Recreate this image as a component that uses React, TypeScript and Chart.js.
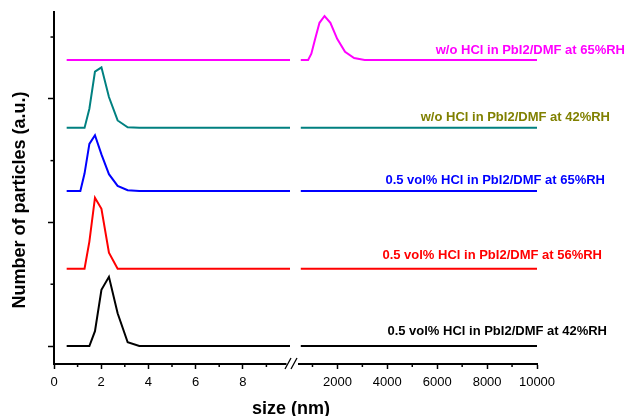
import React, { useEffect, useRef } from "react";
import { Chart, registerables, LinearScale } from "chart.js";

Chart.register(...registerables);

// Size bins (nm) on each side of the axis break
const leftSizes = [0.5365, 1.117, 1.294, 1.499, 1.736, 2.01, 2.328, 2.696, 3.122, 3.615, 10];
const rightSizes = [531.2, 825, 955.4, 1106, 1281, 1484, 1718, 1990, 2305, 2669, 3091, 3580, 10000];

// Number distribution (a.u.) per sample, left bins then right bins
const hcl42Left = [0, 0, 0, 0, 2.4, 9.1, 11.2, 5.3, 0.6, 0, 0];
const hcl42Right = [0, 0, 0, 0, 0, 0, 0, 0, 0, 0, 0, 0, 0];
const hcl56Left = [0, 0, 0, 4.4, 11.5, 9.7, 2.6, 0, 0, 0, 0];
const hcl56Right = [0, 0, 0, 0, 0, 0, 0, 0, 0, 0, 0, 0, 0];
const hcl65Left = [0, 0, 2.8, 7.6, 9.0, 5.9, 2.7, 0.8, 0.1, 0, 0];
const hcl65Right = [0, 0, 0, 0, 0, 0, 0, 0, 0, 0, 0, 0, 0];
const noHcl42Left = [0, 0, 0, 3.1, 9.1, 9.8, 5.0, 1.2, 0.1, 0, 0];
const noHcl42Right = [0, 0, 0, 0, 0, 0, 0, 0, 0, 0, 0, 0, 0];
const noHcl65Left = [0, 0, 0, 0, 0, 0, 0, 0, 0, 0, 0];
const noHcl65Right = [0, 0, 1.0, 3.4, 6.0, 7.1, 6.0, 3.4, 1.3, 0.3, 0, 0, 0];

// Vertical stacking offsets of the curves
const offsets = [0, 12.5, 25.1, 35.3, 46.3];

const seriesLabels = [
  "0.5 vol% HCl in PbI2/DMF at 42%RH",
  "0.5 vol% HCl in PbI2/DMF at 56%RH",
  "0.5 vol% HCl in PbI2/DMF at 65%RH",
  "w/o HCl in PbI2/DMF at 42%RH",
  "w/o HCl in PbI2/DMF at 65%RH",
];

// Axis ticks
const xMajorTicks = [0, 2, 4, 6, 8, 2000, 4000, 6000, 8000, 10000];
const xMinorTicks = [1, 3, 5, 7, 9, 1000, 3000, 5000, 7000, 9000];
const yMajorTicks = [0, 20, 40];
const yMinorTicks = [10, 30, 50];

const lineColors = ["#000000", "#ff0000", "#0000ff", "#008080", "#ff00ff"];
const labelColors = ["#000000", "#ff0000", "#0000ff", "#808000", "#ff00ff"];
// right edge x and baseline y for each curve label
const labelAnchors = [
  [607, 335],
  [602, 258.5],
  [605, 183.5],
  [610, 120.5],
  [625, 53.5],
];

const FONT = "'Liberation Sans', Arial, Helvetica, sans-serif";

// Broken axis: 0–10 nm on the left, 500–10000 nm on the right
const LEFT_MAX = 10;
const RIGHT_MIN = 500;
const RIGHT_MAX = 10000;
const LEFT_FRAC = 236 / 483;
const GAP_FRAC = 10 / 483;
const RIGHT_FRAC = 1 - LEFT_FRAC - GAP_FRAC;

function toDecimal(v: number): number {
  if (v <= LEFT_MAX) return (v / LEFT_MAX) * LEFT_FRAC;
  if (v < RIGHT_MIN) return LEFT_FRAC + ((v - LEFT_MAX) / (RIGHT_MIN - LEFT_MAX)) * GAP_FRAC;
  return LEFT_FRAC + GAP_FRAC + ((v - RIGHT_MIN) / (RIGHT_MAX - RIGHT_MIN)) * RIGHT_FRAC;
}

function fromDecimal(d: number): number {
  if (d <= LEFT_FRAC) return (d / LEFT_FRAC) * LEFT_MAX;
  if (d < LEFT_FRAC + GAP_FRAC) return LEFT_MAX + ((d - LEFT_FRAC) / GAP_FRAC) * (RIGHT_MIN - LEFT_MAX);
  return RIGHT_MIN + ((d - LEFT_FRAC - GAP_FRAC) / RIGHT_FRAC) * (RIGHT_MAX - RIGHT_MIN);
}

class BrokenLinearScale extends LinearScale {
  static id = "brokenLinear";
  static defaults = LinearScale.defaults;

  buildTicks() {
    return xMajorTicks.map((value) => ({ value }));
  }

  getPixelForValue(value: any) {
    if (value === null || value === undefined || isNaN(value)) return NaN;
    return this.getPixelForDecimal(toDecimal(value));
  }

  getValueForPixel(pixel: number) {
    return fromDecimal(this.getDecimalForPixel(pixel));
  }
}

Chart.register(BrokenLinearScale as any);

function buildSeries(left: number[], right: number[], offset: number) {
  const pts: { x: number; y: number | null }[] = [];
  leftSizes.forEach((x, i) => pts.push({ x, y: left[i] + offset }));
  pts.push({ x: 100, y: null });
  rightSizes.forEach((x, i) => pts.push({ x, y: right[i] + offset }));
  return pts;
}

const decorations = {
  id: "decorations",
  afterDraw(chart: any) {
    const ctx = chart.ctx as CanvasRenderingContext2D;
    const xs = chart.scales.x;
    const ys = chart.scales.y;
    const axisY = xs.top;
    const axisX = ys.right;
    ctx.save();
    ctx.strokeStyle = "#000";
    ctx.lineWidth = 1.5;

    // minor tick marks
    xMinorTicks.forEach((v) => {
      const px = xs.getPixelForValue(v);
      ctx.beginPath();
      ctx.moveTo(px, axisY);
      ctx.lineTo(px, axisY + 3);
      ctx.stroke();
    });
    yMinorTicks.forEach((v) => {
      const py = ys.getPixelForValue(v);
      ctx.beginPath();
      ctx.moveTo(axisX, py);
      ctx.lineTo(axisX - 3.5, py);
      ctx.stroke();
    });

    // axis break marks
    const xL = xs.getPixelForValue(LEFT_MAX);
    const xR = xs.getPixelForValue(RIGHT_MIN);
    ctx.fillStyle = "#fff";
    ctx.fillRect(xL - 3.5, axisY - 2, xR - 2 - (xL - 3.5), 4);
    ctx.lineWidth = 1.3;
    ctx.beginPath();
    ctx.moveTo(xL - 5, axisY + 5);
    ctx.lineTo(xL + 1, axisY - 6);
    ctx.moveTo(xL + 1, axisY + 5);
    ctx.lineTo(xL + 7, axisY - 6);
    ctx.stroke();

    // curve labels
    ctx.font = `bold 13px ${FONT}`;
    ctx.textAlign = "right";
    ctx.textBaseline = "alphabetic";
    seriesLabels.forEach((t, i) => {
      ctx.fillStyle = labelColors[i];
      ctx.fillText(t, labelAnchors[i][0], labelAnchors[i][1]);
    });

    // axis titles
    ctx.fillStyle = "#000";
    ctx.font = `bold 18px ${FONT}`;
    ctx.textAlign = "center";
    ctx.fillText("size (nm)", 291, 414);
    ctx.save();
    ctx.translate(25, 200);
    ctx.rotate(-Math.PI / 2);
    ctx.fillText("Number of particles (a.u.)", 0, 0);
    ctx.restore();

    ctx.restore();
  },
};

export default function App() {
  const canvasRef = useRef<HTMLCanvasElement | null>(null);

  useEffect(() => {
    if (!canvasRef.current) return;
    const lefts = [hcl42Left, hcl56Left, hcl65Left, noHcl42Left, noHcl65Left];
    const rights = [hcl42Right, hcl56Right, hcl65Right, noHcl42Right, noHcl65Right];
    const chart = new Chart(canvasRef.current, {
      type: "line",
      data: {
        datasets: seriesLabels.map((label, i) => ({
          label,
          data: buildSeries(lefts[i], rights[i], offsets[i]),
          borderColor: lineColors[i],
          borderWidth: 2,
          pointRadius: 0,
          tension: 0,
          fill: false,
          spanGaps: false,
        })),
      },
      options: {
        responsive: false,
        animation: false,
        events: [],
        layout: { padding: { left: 0, top: 12, right: 89, bottom: 0 } },
        plugins: { legend: { display: false }, tooltip: { enabled: false }, title: { display: false } },
        scales: {
          x: {
            type: "brokenLinear" as any,
            position: "bottom",
            min: 0,
            max: RIGHT_MAX,
            grid: { drawOnChartArea: false, tickLength: 5, tickColor: "#000", tickWidth: 1.5 },
            border: { color: "#000", width: 2 },
            ticks: {
              autoSkip: false,
              maxRotation: 0,
              padding: 6,
              color: "#000",
              font: { family: FONT, size: 13 },
              callback: (v: any) => String(v),
            },
            afterFit: (s: any) => {
              s.height = 52;
            },
          } as any,
          y: {
            type: "linear",
            min: -2.91,
            max: 54.05,
            afterBuildTicks: (s: any) => {
              s.ticks = yMajorTicks.map((value) => ({ value }));
            },
            ticks: { display: false },
            grid: { drawOnChartArea: false, tickLength: 6, tickColor: "#000", tickWidth: 1.5 },
            border: { color: "#000", width: 2 },
            afterFit: (s: any) => {
              s.width = 54;
            },
          },
        },
      },
      plugins: [decorations],
    });
    return () => chart.destroy();
  }, []);

  return (
    <div style={{ position: "absolute", left: 0, top: 0, width: 626, height: 416, background: "#fff" }}>
      <canvas ref={canvasRef} width={626} height={416} />
    </div>
  );
}
